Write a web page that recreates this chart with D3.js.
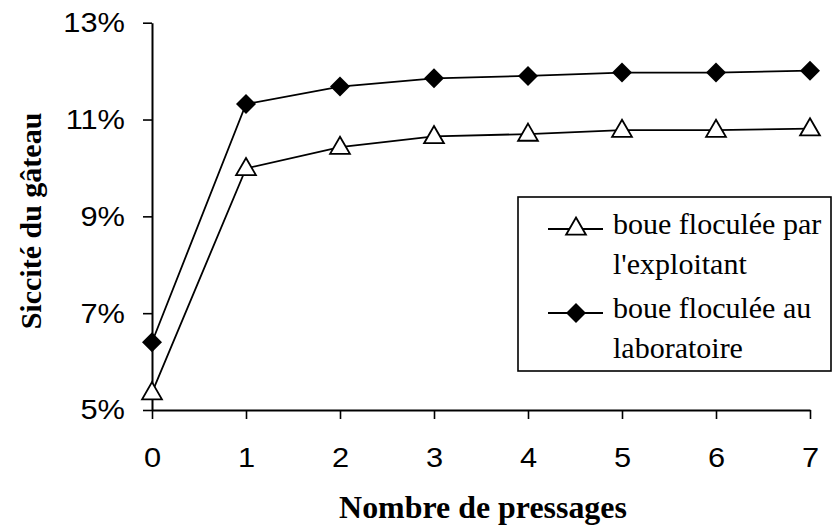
<!DOCTYPE html>
<html>
<head>
<meta charset="utf-8">
<script src="https://cdn.jsdelivr.net/npm/d3@7"></script>
<style>
  html, body { margin: 0; padding: 0; background: #fff; }
  svg { display: block; }
</style>
</head>
<body>
<svg id="chart" width="833" height="527"></svg>
<script>
// Number of pressings (x) and cake dryness in % (y)
const pressages = [0, 1, 2, 3, 4, 5, 6, 7];
const exploitant = [5.36, 9.99, 10.43, 10.65, 10.70, 10.78, 10.78, 10.81];
const laboratoire = [6.40, 11.32, 11.68, 11.85, 11.90, 11.97, 11.97, 12.01];
const yTicks = [5, 7, 9, 11, 13];
const seriesNames = [
  ["boue floculée par", "l'exploitant"],
  ["boue floculée au", "laboratoire"]
];

const svg = d3.select("#chart");
const plot = { left: 152, right: 810, top: 22.7, bottom: 410 };

const x = d3.scaleLinear().domain([0, 7]).range([plot.left, plot.right]);
const y = d3.scaleLinear().domain([5, 13]).range([plot.bottom, plot.top]);

const sans = "'Liberation Sans', Arial, sans-serif";
const serif = "'Liberation Serif', 'Times New Roman', serif";

// Axes (tick labels slightly widened)
const yAxis = d3.axisLeft(y).tickValues(yTicks).tickSize(9).tickSizeOuter(0)
  .tickFormat(d => d + "%");
const gy = svg.append("g").attr("transform", `translate(${plot.left},0)`).call(yAxis);
gy.select(".domain").attr("stroke", "#000").attr("stroke-width", 2);
gy.selectAll(".tick line").attr("stroke", "#000").attr("stroke-width", 1.6);
gy.selectAll(".tick text")
  .attr("x", 0).attr("transform", "translate(-27,0) scale(1.1,1)")
  .attr("font-family", sans).attr("font-size", 28).attr("fill", "#000");

const xAxis = d3.axisBottom(x).tickValues(pressages).tickSize(9).tickSizeOuter(0)
  .tickFormat(d3.format("d")).tickPadding(28);
const gx = svg.append("g").attr("transform", `translate(0,${plot.bottom})`).call(xAxis);
gx.select(".domain").attr("stroke", "#000").attr("stroke-width", 2);
gx.selectAll(".tick line").attr("stroke", "#000").attr("stroke-width", 1.6);
gx.selectAll(".tick text").attr("transform", "scale(1.1,1)")
  .attr("font-family", sans).attr("font-size", 28).attr("fill", "#000");

// Axis titles
svg.append("text")
  .attr("transform", `translate(${(plot.left + plot.right) / 2 + 2},518) scale(1.03,1)`)
  .attr("text-anchor", "middle")
  .attr("font-family", serif).attr("font-weight", "bold").attr("font-size", 31)
  .text("Nombre de pressages");

svg.append("text")
  .attr("transform", "translate(41,221) rotate(-90)")
  .attr("text-anchor", "middle")
  .attr("font-family", serif).attr("font-weight", "bold").attr("font-size", 30)
  .text("Siccité du gâteau");

// Series
const line = d3.line().x((d, i) => x(pressages[i])).y(d => y(d));
const triangle = d3.symbol().type(d3.symbolTriangle).size(170);
const diamond = d3.symbol().type(d3.symbolSquare).size(200);

function drawSeries(values, kind) {
  svg.append("path").datum(values).attr("d", line)
    .attr("fill", "none").attr("stroke", "#000").attr("stroke-width", 1.8);
  const g = svg.append("g");
  values.forEach((v, i) => {
    if (kind === "tri") {
      g.append("path").attr("d", triangle())
        .attr("transform", `translate(${x(pressages[i])},${y(v) + 1})`)
        .attr("fill", "#fff").attr("stroke", "#000").attr("stroke-width", 1.8);
    } else {
      g.append("path").attr("d", diamond())
        .attr("transform", `translate(${x(pressages[i])},${y(v)}) rotate(45)`)
        .attr("fill", "#000");
    }
  });
}
drawSeries(exploitant, "tri");
drawSeries(laboratoire, "dia");

// Legend
const lg = svg.append("g");
lg.append("rect").attr("x", 518).attr("y", 197).attr("width", 313).attr("height", 174)
  .attr("fill", "#fff").attr("stroke", "#000").attr("stroke-width", 1.6);

const rows = [{ y: 229, kind: "tri" }, { y: 313, kind: "dia" }];
rows.forEach((r, k) => {
  lg.append("line").attr("x1", 548).attr("x2", 603).attr("y1", r.y).attr("y2", r.y)
    .attr("stroke", "#000").attr("stroke-width", 1.8);
  if (r.kind === "tri") {
    lg.append("path").attr("d", triangle()).attr("transform", `translate(576,${r.y})`)
      .attr("fill", "#fff").attr("stroke", "#000").attr("stroke-width", 1.8);
  } else {
    lg.append("path").attr("d", diamond()).attr("transform", `translate(576,${r.y}) rotate(45)`)
      .attr("fill", "#000");
  }
  seriesNames[k].forEach((t, j) => {
    lg.append("text")
      .attr("x", 613).attr("y", r.y + 5 + j * 40)
      .attr("font-family", serif).attr("font-size", 30).attr("fill", "#000")
      .text(t);
  });
});
</script>
</body>
</html>
